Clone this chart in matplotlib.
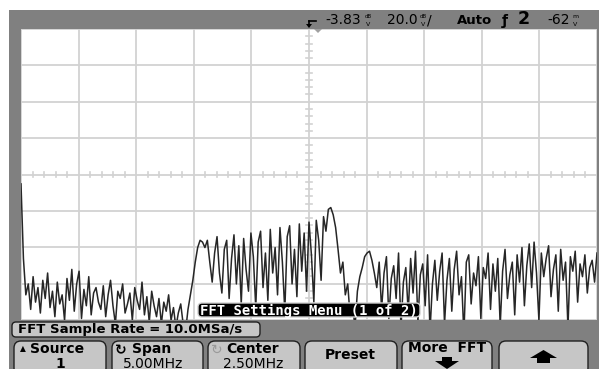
import numpy as np
import matplotlib
matplotlib.use("Agg")
import matplotlib.pyplot as plt
from matplotlib.patches import Rectangle, FancyBboxPatch, Polygon

plt.rcParams['font.family'] = ['DejaVu Sans']

# scope FFT settings
span_mhz = 5.0
center_dbv = -3.83
db_per_div = 20.0

floor_low = [-9, -50, -70,
             -64, -78, -60, -74, -66, -80, -62, -72, -58, -77,
             -68, -82, -63, -75, -70, -84, -61, -73, -56, -79,
             -64, -57, -83, -67, -76, -60, -81, -69, -66, -74,
             -78, -65, -82, -70, -62, -76, -86, -68, -72, -64,
             -80, -75, -69, -84, -66, -73, -78, -63, -81, -71,
             -85, -68, -76, -82, -72, -86, -74, -79, -70, -84,
             -77, -88, -80, -75, -86, -90]
rise = [-78, -70, -62, -52, -44, -40]
band = [-41, -44, -40, -52, -63, -47, -38, -58, -69, -45,
        -40, -72, -50, -37, -64, -43, -75, -39, -56, -68,
        -36, -49, -77, -41, -35, -66, -47, -73, -34, -58,
        -44, -70, -33, -52, -79, -38, -32, -64, -45, -71,
        -31, -57, -36, -68, -30, -48, -74, -29, -40, -62,
        -27, -35, -23, -22, -26, -33]
drop = [-45, -58, -52, -70, -64, -82, -75, -88, -68, -60, -55, -49, -47, -46, -51, -58]
floor_high = [-66, -52, -78, -58, -49, -83, -61, -54, -72, -47, -88, -63, -55, -80, -50, -69,
              -46, -85, -59, -53, -76, -48, -90, -64, -51, -73, -57, -47, -86, -62, -50, -79,
              -56, -46, -70, -60, -92, -52, -48, -75, -58, -65, -49, -83, -55, -61, -47, -78,
              -53, -68, -50, -87, -57, -45, -72, -59, -52, -81, -48, -63, -44, -76, -54, -42,
              -66, -41, -58, -84, -47, -60, -50, -43, -71, -56, -48, -79, -45, -62, -52, -88,
              -49, -57, -46, -74, -53, -60, -48, -69, -55, -51, -63, -47]

mag_dbv = np.array(floor_low + rise + band + drop + floor_high)
freq_mhz = np.linspace(0, span_mhz, len(mag_dbv))

W, H = 599, 369
GRAY = '#808080'
KEY = '#c6c6c6'
GRID = '#d2d2d2'

fig = plt.figure(figsize=(W / 100, H / 100), dpi=100)
fig.patch.set_facecolor('white')

# graticule area in pixels
pl, pr, pt, pb = 21, 597, 29, 320
ax = fig.add_axes([pl / W, (H - pb) / H, (pr - pl) / W, (pb - pt) / H])
ax.set_facecolor('white')
ylo = center_dbv - 4 * db_per_div
yhi = center_dbv + 4 * db_per_div
ax.set_xlim(0, span_mhz)
ax.set_ylim(ylo, yhi)
ax.set_xticks(np.arange(0, span_mhz + 0.01, span_mhz / 10))
ax.set_yticks(np.arange(ylo, yhi + 0.01, db_per_div))
ax.grid(True, color=GRID, lw=1.3)
ax.tick_params(length=0, labelbottom=False, labelleft=False)
for s in ax.spines.values():
    s.set_visible(False)

# small ticks on the centre lines
xc = span_mhz / 2
for k in range(50):
    fx = k * span_mhz / 50
    if k % 5:
        ax.plot([fx, fx], [center_dbv - 1.6, center_dbv + 1.6], color=GRID, lw=1.2)
for k in range(40):
    fy = ylo + k * db_per_div / 5
    if k % 5:
        ax.plot([xc - 0.025, xc + 0.025], [fy, fy], color=GRID, lw=1.2)

ax.plot(freq_mhz, mag_dbv, color='#262626', lw=1.1, clip_on=True)

# overlay in pixel coordinates for the scope's menus
ov = fig.add_axes([0, 0, 1, 1], zorder=5)
ov.set_xlim(0, W)
ov.set_ylim(H, 0)
ov.axis('off')
ov.patch.set_alpha(0)

for x0, y0, x1, y1 in [(9, 10, W, pt), (9, 10, pl, H), (pr, 10, W, H), (9, pb, W, H)]:
    ov.add_patch(Rectangle((x0, y0), x1 - x0, y1 - y0, color=GRAY, lw=0))

# top status line
ov.plot([309, 316], [20.5, 20.5], color='black', lw=1.2)
ov.plot([309, 309], [20.5, 24], color='black', lw=1.2)
ov.add_patch(Polygon([[306, 24], [312, 24], [309, 28]], closed=True, color='black', lw=0))
ov.add_patch(Polygon([[314, 29], [322, 29], [318, 33]], closed=True, color='#a0a0a0', lw=0))
ov.text(325, 20.5, '-3.83', fontsize=10, va='center', ha='left')
ov.text(368, 17, 'dB', fontsize=4, va='center', ha='center')
ov.text(368, 24, 'V', fontsize=4.5, va='center', ha='center')
ov.text(387, 20.5, '20.0', fontsize=10, va='center', ha='left')
ov.text(423, 17, 'dB', fontsize=4, va='center', ha='center')
ov.text(423, 24, 'V', fontsize=4.5, va='center', ha='center')
ov.text(427, 20.5, '/', fontsize=10, va='center', ha='left')
ov.text(457, 20.5, 'Auto', fontsize=9.5, fontweight='bold', va='center', ha='left')
ov.text(505, 20.5, 'ƒ', fontsize=10, fontweight='bold', va='center', ha='center')
ov.text(518, 19.5, '2', fontsize=12.5, fontweight='bold', va='center', ha='left')
ov.text(547, 20.5, '-62', fontsize=10, va='center', ha='left')
ov.text(575, 17, 'm', fontsize=4.5, va='center', ha='center')
ov.text(575, 24, 'V', fontsize=4.5, va='center', ha='center')

# menu title over the trace
ov.add_patch(FancyBboxPatch((198, 303), 222, 14, boxstyle='round,pad=0,rounding_size=4',
                            fc='black', ec='#d0d0d0', lw=1))
ov.text(309, 310.5, 'FFT Settings Menu (1 of 2)', family='DejaVu Sans Mono', fontweight='bold',
        fontsize=10, color='white', va='center', ha='center')

# sample rate line
ov.add_patch(FancyBboxPatch((12, 322), 248, 15, boxstyle='round,pad=0,rounding_size=4',
                            fc=KEY, ec='#202020', lw=1))
ov.text(18, 330, 'FFT Sample Rate = 10.0MSa/s', fontsize=9.5, fontweight='bold',
        va='center', ha='left')

# softkeys
keys = [(14, 106), (112, 203), (208, 300), (305, 397), (402, 492), (499, 588)]
for x0, x1 in keys:
    ov.add_patch(FancyBboxPatch((x0, 341), x1 - x0, 34, boxstyle='round,pad=0,rounding_size=7',
                                fc=KEY, ec='#202020', lw=1))

ov.text(23, 349, '▲', fontsize=5.5, va='center', ha='center')
ov.text(57, 349, 'Source', fontsize=10, fontweight='bold', va='center', ha='center')
ov.text(60, 363.5, '1', fontsize=10, fontweight='bold', va='center', ha='center')
ov.text(121, 350, '↻', fontsize=10, fontweight='bold', va='center', ha='center')
ov.text(152, 349, 'Span', fontsize=10, fontweight='bold', va='center', ha='center')
ov.text(153, 363.5, '5.00MHz', fontsize=10, va='center', ha='center')
ov.text(217, 350, '↻', fontsize=10, color='#9a9a9a', va='center', ha='center')
ov.text(253, 349, 'Center', fontsize=10, fontweight='bold', va='center', ha='center')
ov.text(253, 363.5, '2.50MHz', fontsize=10, va='center', ha='center')
ov.text(350, 355, 'Preset', fontsize=10, fontweight='bold', va='center', ha='center')
ov.text(447, 348.5, 'More  FFT', fontsize=10, fontweight='bold', va='center', ha='center')
ov.add_patch(Rectangle((442, 357), 10, 4, color='black', lw=0))
ov.add_patch(Polygon([[435, 361], [459, 361], [447, 369]], closed=True, color='black', lw=0))
ov.add_patch(Polygon([[530, 358], [557, 358], [543.5, 350]], closed=True, color='black', lw=0))
ov.add_patch(Rectangle((537, 358), 13, 5, color='black', lw=0))

fig.savefig('out.png', dpi=100, facecolor=fig.get_facecolor())
